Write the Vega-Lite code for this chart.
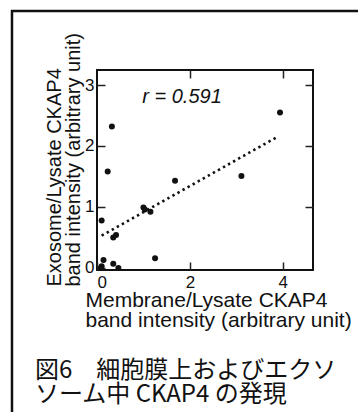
{
  "$schema": "https://vega.github.io/schema/vega-lite/v6.json",
  "width": 216,
  "height": 200,
  "autosize": {"type": "none"},
  "padding": {"left": 97, "top": 70, "right": 45, "bottom": 142},
  "background": "white",
  "config": {
    "view": {"stroke": "#111", "strokeWidth": 2},
    "font": "Liberation Sans",
    "axis": {"domain": false, "grid": false, "tickColor": "#222", "tickWidth": 1.5, "labelColor": "#111", "titleColor": "#111", "labelFont": "Liberation Sans", "titleFont": "Liberation Sans", "labelFontSize": 17, "titleFontSize": 20, "titleFontWeight": "normal"}
  },
  "data": {
    "values": [
      {"membrane": 0.32, "exosome": 2.32},
      {"membrane": 0.23, "exosome": 1.58},
      {"membrane": 0.10, "exosome": 0.78},
      {"membrane": 0.35, "exosome": 0.50},
      {"membrane": 0.41, "exosome": 0.54},
      {"membrane": 1.00, "exosome": 0.99},
      {"membrane": 1.03, "exosome": 0.96},
      {"membrane": 1.15, "exosome": 0.92},
      {"membrane": 1.68, "exosome": 1.43},
      {"membrane": 1.25, "exosome": 0.16},
      {"membrane": 0.14, "exosome": 0.13},
      {"membrane": 0.10, "exosome": 0.03},
      {"membrane": 0.08, "exosome": 0.00},
      {"membrane": 0.35, "exosome": 0.07},
      {"membrane": 0.46, "exosome": 0.00},
      {"membrane": 3.94, "exosome": 2.55},
      {"membrane": 3.11, "exosome": 1.51}
    ]
  },
  "layer": [
    {
      "data": {"values": [{}]},
      "mark": {"type": "rect", "fill": null, "stroke": "#111", "strokeWidth": 2.5, "clip": false},
      "encoding": {
        "x": {"datum": -1.83, "type": "quantitative", "scale": {"domain": [0, 4.65], "nice": false, "zero": false}, "axis": null},
        "x2": {"datum": 12},
        "y": {"datum": 4.213, "type": "quantitative", "scale": {"domain": [-0.033, 3.246], "nice": false, "zero": false}, "axis": null},
        "y2": {"datum": -12}
      }
    },
    {
      "mark": {"type": "circle", "color": "#111", "size": 36, "opacity": 1},
      "encoding": {
        "x": {"field": "membrane", "type": "quantitative", "scale": {"domain": [0, 4.65], "nice": false, "zero": false},
          "axis": {"orient": "bottom", "values": [0, 2, 4], "tickSize": -8, "labelPadding": 12,
            "title": ["Membrane/Lysate CKAP4", "band intensity (arbitrary unit)"],
            "titleFontSize": 21, "titleLineHeight": 20, "titleBaseline": "alphabetic", "titleAlign": "left", "titleX": -12, "titleY": 36}},
        "y": {"field": "exosome", "type": "quantitative", "scale": {"domain": [-0.033, 3.246], "nice": false, "zero": false},
          "axis": {"orient": "left", "values": [0, 1, 2, 3], "tickSize": -8, "labelPadding": 11,
            "title": ["Exosome/Lysate CKAP4", "band intensity (arbitrary unit)"],
            "titleLineHeight": 19, "titleAngle": -90, "titleAlign": "left", "titleBaseline": "alphabetic", "titleX": -37, "titleY": 216}}
      }
    },
    {
      "data": {"values": [{"membrane": 0.10, "fit": 0.53}, {"membrane": 3.86, "fit": 2.14}]},
      "mark": {"type": "line", "color": "#111", "strokeWidth": 2.6, "strokeDash": [2.4, 3.4], "strokeCap": "butt"},
      "encoding": {
        "x": {"field": "membrane", "type": "quantitative", "scale": {"domain": [0, 4.65], "nice": false, "zero": false},
          "axis": {"orient": "top", "values": [2, 4], "tickSize": -8, "labels": false, "title": null}},
        "y": {"field": "fit", "type": "quantitative", "scale": {"domain": [-0.033, 3.246], "nice": false, "zero": false},
          "axis": {"orient": "right", "values": [1, 2, 3], "tickSize": -8, "labels": false, "title": null}}
      }
    },
    {
      "data": {"values": [{}]},
      "mark": {"type": "text", "font": "Liberation Sans", "fontSize": 20, "fontStyle": "italic", "color": "#111", "align": "center", "baseline": "middle"},
      "encoding": {
        "x": {"datum": 1.83, "type": "quantitative", "scale": {"domain": [0, 4.65], "nice": false, "zero": false}, "axis": null},
        "y": {"datum": 2.80, "type": "quantitative", "scale": {"domain": [-0.033, 3.246], "nice": false, "zero": false}, "axis": null},
        "text": {"value": "r = 0.591"}
      }
    },
    {
      "data": {"values": [{}]},
      "mark": {"type": "text", "font": "Noto Sans CJK JP", "fontSize": 24, "lineHeight": 24, "color": "#111", "align": "left", "baseline": "alphabetic", "clip": false},
      "encoding": {
        "x": {"datum": -1.335, "type": "quantitative", "scale": {"domain": [0, 4.65], "nice": false, "zero": false}, "axis": null},
        "y": {"datum": -1.81, "type": "quantitative", "scale": {"domain": [-0.033, 3.246], "nice": false, "zero": false}, "axis": null},
        "text": {"value": ["図6　細胞膜上およびエクソ", "ソーム中 CKAP4 の発現"]}
      }
    }
  ],
  "resolve": {"axis": {"x": "independent", "y": "independent"}}
}
